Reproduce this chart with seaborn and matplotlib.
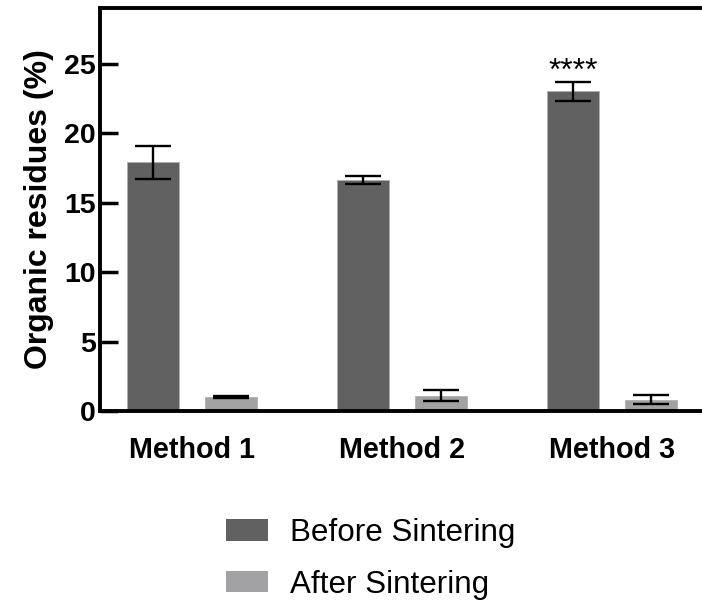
import numpy as np
import pandas as pd
import matplotlib
matplotlib.use("Agg")
import matplotlib.pyplot as plt
import seaborn as sns

# values
methods = ["Method 1", "Method 2", "Method 3"]
phases = ["Before Sintering", "After Sintering"]
beforeMean = [17.9, 16.6, 23.0]
beforeErr = [1.2, 0.3, 0.7]
afterMean = [1.0, 1.1, 0.8]
afterErr = [0.05, 0.4, 0.33]
starLabel = "****"
starY = 23.3

sns.set_theme(style="ticks")
plt.rcParams["font.family"] = ["Liberation Sans", "DejaVu Sans"]
plt.rcParams["text.color"] = "black"
plt.rcParams["axes.labelcolor"] = "black"
plt.rcParams["xtick.color"] = "black"
plt.rcParams["ytick.color"] = "black"

df = pd.DataFrame({
    "method": methods * 2,
    "phase": [phases[0]] * 3 + [phases[1]] * 3,
    "value": beforeMean + afterMean,
    "err": beforeErr + afterErr,
})

palette = {phases[0]: "#616161", phases[1]: "#a2a2a5"}

fig = plt.figure(figsize=(7.02, 6), dpi=100)
ax = fig.add_axes([100 / 702, 189 / 600, 617 / 702, 403 / 600])

sns.barplot(data=df, x="method", y="value", hue="phase", palette=palette,
            width=0.743, gap=0.33, errorbar=None, saturation=1,
            edgecolor="#b0b0b0", linewidth=0.6, legend=False, ax=ax)

# error bars at the bar centres
for bars, ph in zip(ax.containers, phases):
    sub = df[df["phase"] == ph]
    xs = [b.get_x() + b.get_width() / 2 for b in bars]
    ax.errorbar(xs, sub["value"], yerr=sub["err"], fmt="none", ecolor="black",
                elinewidth=1.7, capsize=13, capthick=1.7, zorder=5)

# significance marker above Method 3
b3 = ax.containers[0][2]
ax.text(b3.get_x() + b3.get_width() / 2, starY, starLabel, ha="center",
        va="bottom", fontsize=23, color="black")

ax.set_ylim(0, 29)
ax.set_xlim(-0.44, 2.5)
ax.set_yticks([0, 5, 10, 15, 20, 25])
ax.set_xlabel("")
ax.set_ylabel("Organic residues (%)", fontsize=23, fontweight="bold", labelpad=7)
ax.tick_params(axis="y", direction="in", length=13, width=2.5, labelsize=20.5,
               pad=3)
ax.tick_params(axis="x", length=0, labelsize=20.7, pad=18)
for lab in ax.get_xticklabels() + ax.get_yticklabels():
    lab.set_fontweight("bold")
for s in ax.spines.values():
    s.set_linewidth(2.8)
    s.set_color("black")

handles = [plt.Rectangle((0, 0), 1, 1, facecolor=palette[p], edgecolor="none")
           for p in phases]
fig.legend(handles, phases, loc="upper left",
           bbox_to_anchor=(226 / 702, (600 - 518) / 600), frameon=False,
           fontsize=22.6, handlelength=1.33, handleheight=0.66,
           handletextpad=0.7, labelspacing=0.69, borderpad=0,
           borderaxespad=0)

fig.savefig("out.png", dpi=100)
